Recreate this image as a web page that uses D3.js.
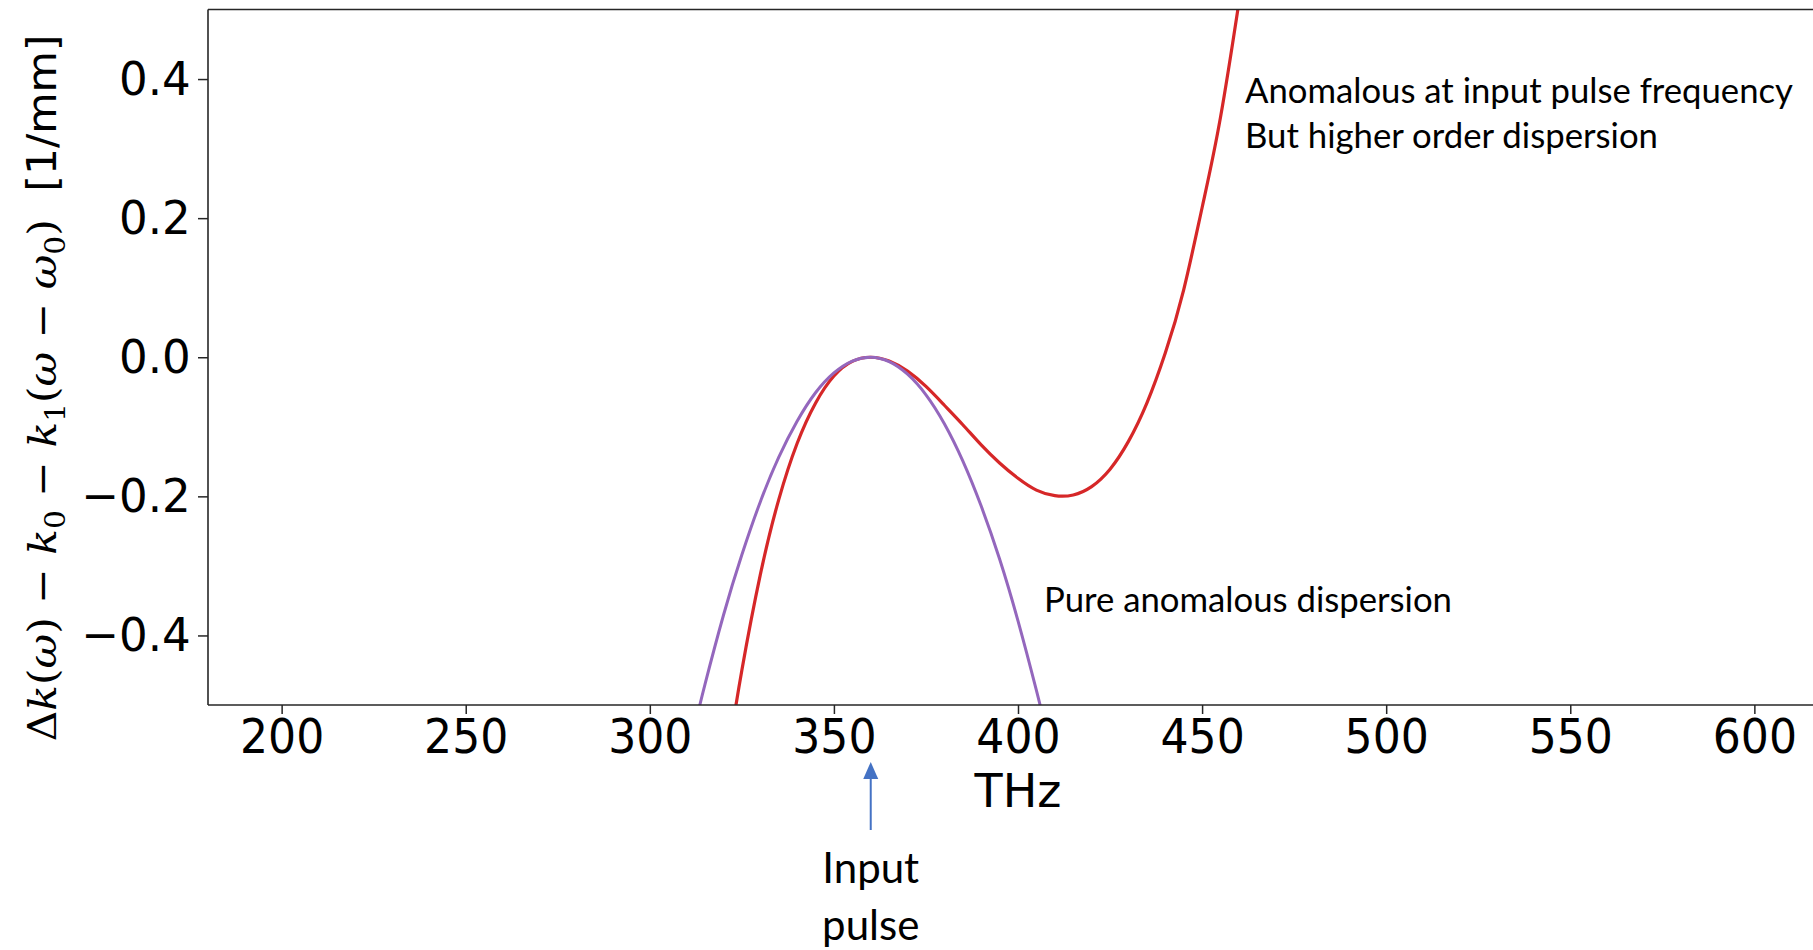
<!DOCTYPE html>
<html>
<head>
<meta charset="utf-8">
<script src="https://cdn.jsdelivr.net/npm/d3@7"></script>
<style>
  html, body { margin: 0; padding: 0; background: #fff; }
  svg { display: block; }
</style>
</head>
<body>
<svg id="chart" width="1813" height="950"></svg>
<script>
// ---------------- data ----------------
const xTicks = [200, 250, 300, 350, 400, 450, 500, 550, 600];
const yTicks = [-0.4, -0.2, 0.0, 0.2, 0.4];

// red curve: anomalous at input frequency + higher order dispersion
const redX = [322, 325, 330, 335, 340, 345, 350, 355, 360, 365, 370, 375, 380, 385, 390, 395, 400, 405, 410, 415, 420, 425, 430, 435, 440, 445, 450, 455, 460, 462];
const redY = [-0.547, -0.450, -0.313, -0.205, -0.124, -0.066, -0.027, -0.006, 0.000, -0.0055, -0.020, -0.042, -0.069, -0.097, -0.126, -0.152, -0.174, -0.191, -0.199, -0.198, -0.186, -0.161, -0.121, -0.066, 0.006, 0.097, 0.215, 0.345, 0.510, 0.580];

// purple curve: pure anomalous dispersion
const purpleX = [313, 315, 320, 325, 330, 335, 340, 345, 350, 355, 360, 365, 370, 375, 380, 385, 390, 395, 400, 405, 407];
const purpleY = [-0.513, -0.470, -0.371, -0.284, -0.208, -0.144, -0.092, -0.051, -0.0225, -0.0054, 0.000, -0.0063, -0.0244, -0.054, -0.0956, -0.149, -0.214, -0.290, -0.379, -0.479, -0.522];

const inputPulseTHz = 360;
const xDomain = [180, 620];
const yDomain = [-0.5, 0.5];

const annotations = [
  { text: "Anomalous at input pulse frequency", x: 1245, y: 103, len: 548 },
  { text: "But higher order dispersion", x: 1245, y: 148, len: 413 },
  { text: "Pure anomalous dispersion", x: 1044, y: 612, len: 408 }
];

// ---------------- layout ----------------
const svg = d3.select("#chart");
const L = 208, T = 9.5, B = 705, R = 1828;
const x = d3.scaleLinear().domain(xDomain).range([L, R]);
const y = d3.scaleLinear().domain(yDomain).range([B, T]);

svg.append("rect").attr("width", 1813).attr("height", 950).attr("fill", "#fff");

svg.append("defs").append("clipPath").attr("id", "plotclip")
  .append("rect").attr("x", L).attr("y", T).attr("width", R - L).attr("height", B - T);

// curves
const line = d3.line().x(d => x(d[0])).y(d => y(d[1])).curve(d3.curveNatural);
const g = svg.append("g").attr("clip-path", "url(#plotclip)");
g.append("path").datum(redX.map((v, i) => [v, redY[i]]))
  .attr("d", line).attr("fill", "none").attr("stroke", "#d62728").attr("stroke-width", 3.2);
g.append("path").datum(purpleX.map((v, i) => [v, purpleY[i]]))
  .attr("d", line).attr("fill", "none").attr("stroke", "#9467bd").attr("stroke-width", 3);

// axes
const axisColor = "#262626";
const xAxis = svg.append("g").attr("transform", `translate(0,${B})`)
  .call(d3.axisBottom(x).tickValues(xTicks).tickSize(9).tickPadding(5).tickSizeOuter(0).tickFormat(d3.format("d")));
xAxis.select(".domain").remove();
xAxis.selectAll(".tick line").attr("stroke", axisColor).attr("stroke-width", 1.5);
xAxis.selectAll(".tick text")
  .style("font-family", "DejaVu Sans").style("font-size", "48px").attr("fill", "#000")
  .attr("transform", "scale(0.92,1)");

const yAxis = svg.append("g").attr("transform", `translate(${L},0)`)
  .call(d3.axisLeft(y).tickValues(yTicks).tickSize(10).tickPadding(8).tickSizeOuter(0).tickFormat(d3.format(".1f")));
yAxis.select(".domain").remove();
yAxis.selectAll(".tick line").attr("stroke", axisColor).attr("stroke-width", 1.5);
yAxis.selectAll(".tick text")
  .style("font-family", "DejaVu Sans").style("font-size", "47px").attr("fill", "#000")
  .attr("transform", "scale(0.96,1)");

// spines
svg.append("line").attr("x1", L).attr("x2", L).attr("y1", T).attr("y2", B).attr("stroke", axisColor).attr("stroke-width", 1.6);
svg.append("line").attr("x1", L).attr("x2", 1813).attr("y1", B).attr("y2", B).attr("stroke", axisColor).attr("stroke-width", 1.6);
svg.append("line").attr("x1", L).attr("x2", 1813).attr("y1", T).attr("y2", T).attr("stroke", axisColor).attr("stroke-width", 1.6);

// x label
svg.append("text").attr("x", (L + R) / 2).attr("y", 807).attr("text-anchor", "middle")
  .style("font-family", "DejaVu Sans").style("font-size", "46px").attr("fill", "#000").text("THz");

// y label (math)
const yl = svg.append("text").attr("text-anchor", "middle")
  .style("font-family", "DejaVu Serif").style("font-size", "40px").attr("fill", "#000");
function part(txt, opts = {}) {
  const t = yl.append("tspan").text(txt);
  if (opts.it) t.style("font-style", "italic");
  if (opts.sans) t.style("font-family", "DejaVu Sans");
  if (opts.sub) t.style("font-size", "28px").attr("dy", "9");
  if (opts.up) t.attr("dy", "-9");
  if (opts.dx) t.attr("dx", opts.dx);
  return t;
}
part("Δ"); part("k", { it: true }); part("("); part("ω", { it: true }); part(")");
part(" − "); part("k", { it: true }); part("0", { sub: true });
part(" − ", { up: true }); part("k", { it: true }); part("1", { sub: true });
part("(", { up: true }); part("ω", { it: true }); part(" − "); part("ω", { it: true }); part("0", { sub: true });
part(")", { up: true });
part("[1/mm]", { sans: true, dx: 26 });
const ylLen = yl.node().getComputedTextLength() + 26;
const sx = 707 / ylLen;
yl.attr("transform", `translate(56,388) rotate(-90) scale(${sx},1)`);

// annotations
annotations.forEach(a => {
  svg.append("text").attr("x", a.x).attr("y", a.y)
    .style("font-family", "Lato").style("font-size", "35px").attr("fill", "#000")
    .attr("textLength", a.len).attr("lengthAdjust", "spacingAndGlyphs")
    .text(a.text);
});

// input pulse arrow
const ax = x(inputPulseTHz);
const blue = "#4472C4";
svg.append("line").attr("x1", ax).attr("x2", ax).attr("y1", 830).attr("y2", 776)
  .attr("stroke", blue).attr("stroke-width", 2);
svg.append("path").attr("d", `M${ax},762 L${ax - 7.5},779 L${ax + 7.5},779 Z`).attr("fill", blue);

svg.append("text").attr("x", ax).attr("y", 883).attr("text-anchor", "middle")
  .style("font-family", "Lato").style("font-size", "42px").attr("fill", "#000").text("Input");
svg.append("text").attr("x", ax).attr("y", 940).attr("text-anchor", "middle")
  .style("font-family", "Lato").style("font-size", "42px").attr("fill", "#000").text("pulse");
</script>
</body>
</html>
